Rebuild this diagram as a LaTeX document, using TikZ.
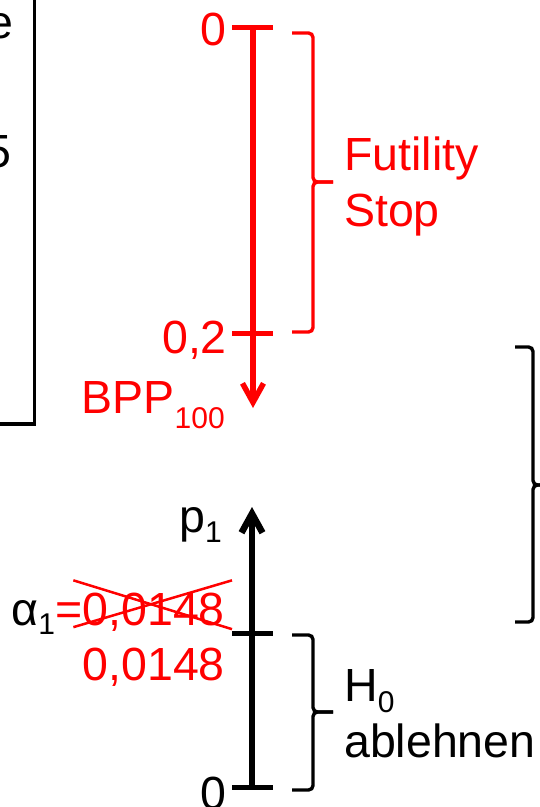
\documentclass[tikz,border=0pt]{standalone}
\usepackage{fontspec}
\setmainfont{Liberation Sans}
\usetikzlibrary{arrows.meta,positioning}
\newcommand{\lowidx}[2][10pt]{\raisebox{-#1}{\fontsize{30}{30}\selectfont #2}}

\begin{document}
\begin{tikzpicture}[x=1pt, y=-1pt, >={Straight Barb[length=19pt,width=21pt]},
    lab/.style={inner sep=0pt, font=\fontsize{46.5}{56}\selectfont},
    brak/.style={line width=3.4pt, rounded corners=4.5pt}]
    \useasboundingbox (0,0) rectangle (539,807);

    % box cut off at the left edge
    \draw[line width=3.5pt] (34.5,-5) -- (34.5,424) -- (-5,424);
    \node[lab, anchor=base east] (boxe) at (14,38) {e};
    \node[lab, anchor=base east] (boxf) at (12,167) {5};

    % red scale (BPP)
    \coordinate (rtop) at (253,27);
    \coordinate (rmid) at (253,333);
    \coordinate (rend) at (253,408);
    \draw[red, line width=5.5pt, ->] (rtop) -- (rend);
    \draw[red, line width=5pt] ([xshift=-21pt]rtop) -- ([xshift=20pt]rtop);
    \draw[red, line width=5pt] ([xshift=-21pt]rmid) -- ([xshift=20pt]rmid);
    \node[lab, red, anchor=base east] (rzero) at (227,45) {0};
    \node[lab, red, anchor=base east] (rtwo) at (227,353) {0,2};
    \node[lab, red, anchor=base east] (bpp) at (225,413) {BPP\lowidx[15pt]{100}};

    % Futility brace
    \coordinate (ftip) at (333,182);
    \draw[red, brak] (292,33) -- (313,33) -- (313,182) -- (ftip);
    \draw[red, brak] (ftip) -- (313,182) -- (313,332) -- (292,332);
    \node[lab, red, align=left, right=11pt of ftip, yshift=-4.5pt] (futil) {Futility\\Stop};

    % black brace on the right edge
    \draw[brak] (515,347) -- (533,347) -- (533,485) -- (553,485);
    \draw[brak] (553,485) -- (533,485) -- (533,622) -- (515,622);

    % black scale (p1)
    \coordinate (bbot) at (252,787);
    \coordinate (bmid) at (252,633);
    \coordinate (btip) at (252,507);
    \draw[line width=6.5pt, ->] (bbot) -- (btip);
    \draw[line width=5pt] ([xshift=-20pt]bmid) -- ([xshift=21pt]bmid);
    \draw[line width=5pt] ([xshift=-20pt]bbot) -- ([xshift=21pt]bbot);
    \node[lab, anchor=base east] (pone) at (222,532) {p\lowidx{1}};
    \node[lab, anchor=base east] (bzero) at (227,809) {0};

    % old alpha, crossed out
    \node[lab, red, anchor=base east] (aold) at (225,625) {0,0148};
    \node[lab, anchor=base east] (alpha) at (aold.base west) {α\lowidx[9pt]{1}{\color{red}=}};
    \draw[red, line width=2.5pt] ([xshift=-9pt,yshift=12pt]aold.north west) -- ([xshift=7pt,yshift=2pt]aold.south east);
    \draw[red, line width=2.5pt] ([xshift=-9pt,yshift=4pt]aold.south west) -- ([xshift=7pt,yshift=12pt]aold.north east);
    \node[lab, red, anchor=base east] (anew) at (225,680) {0,0148};

    % H0 brace
    \coordinate (htip) at (333,712);
    \draw[brak] (292,635) -- (313,635) -- (313,712) -- (htip);
    \draw[brak] (htip) -- (313,712) -- (313,790) -- (292,790);
    \node[lab, align=left, right=11pt of htip, yshift=-2pt] (hnull) {H\lowidx[11pt]{0}\\ablehnen};
\end{tikzpicture}
\end{document}
